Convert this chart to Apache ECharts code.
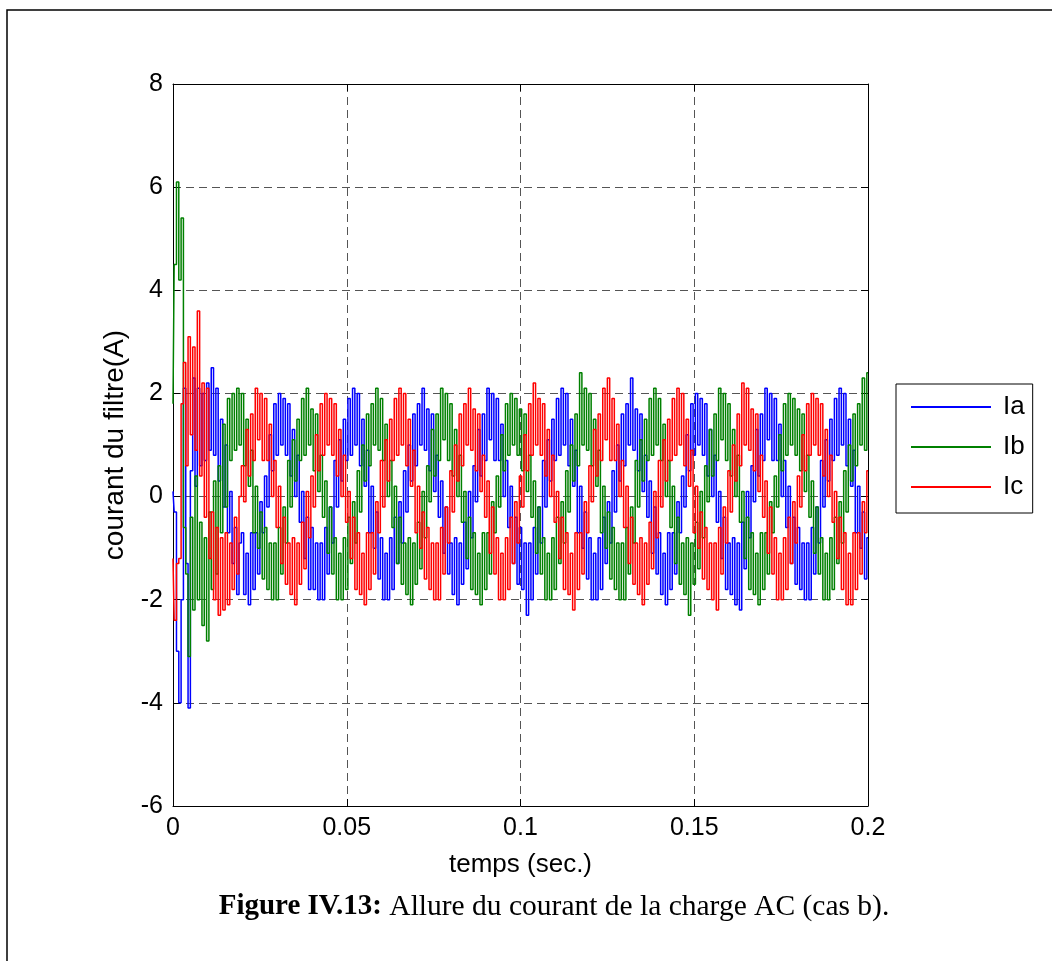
<!DOCTYPE html>
<html><head><meta charset="utf-8">
<script src="https://cdn.jsdelivr.net/npm/echarts@6/dist/echarts.min.js"></script>
<style>html,body{margin:0;padding:0;background:#fff}#c{width:1052px;height:961px}</style>
</head><body><div id="c"></div>
<script>
// ---- data ----
const seriesNames = ['Ia', 'Ib', 'Ic'];
const xTickLabels = ['0', '0.05', '0.1', '0.15', '0.2'];
const yTickLabels = ['-6', '-4', '-2', '0', '2', '4', '6', '8'];
const DT = 0.02 / 30; // sample spacing (s)

const ia = [
 .1,-.3,-3.0,-4.0,-2.0,2.1,-1.3,-4.1,.5,2.3, .2,2.1,.6,2.0,.7,2.2,.9,2.5,.8,2.1, .3,1.5,-.2,1.0,-.7,.1,-1.3,-.6,-1.9,-.9,
 -.7,-1.9,-1.1,-2.1,-.7,-1.8,-.7,-1.5,-.1,-.7, .4,-.2,1.2,.5,1.8,.8,2.0,1.0,1.9,.8, 1.8,.4,1.3,0,.8,-.5,.1,-1.2,-.4,-1.8,
 -.6,-1.8,-.9,-2.0,-.9,-2.0,-.6,-1.5,-.2,-.9, .7,-.2,1.1,.3,1.5,.7,1.9,.8,2.1,1.0, 2.0,.6,1.5,.2,.9,-.7,.2,-1.0,-.3,-1.6,
 -.8,-2.0,-1.1,-2.0,-.8,-1.8,-.4,-1.3,-.1,-.9, .5,-.3,1.0,.3,1.6,.6,1.8,1.0,2.1,.9, 1.7,.5,1.6,.1,.8,-.4,.3,-1.1,-.2,-1.5,
 -.9,-1.9,-.8,-2.1,-.9,-1.7,-.5,-1.4,.1,-.8, .6,-.1,1.3,.4,1.6,.7,2.1,1.1,2.0,.7, 1.9,.7,1.4,0,.7,-.6,.2,-1.3,-.4,-1.7,
 -.6,-1.8,-.9,-2.3,-.9,-2.0,-.6,-1.5,-.2,-.9, .7,-.2,1.1,.3,1.5,.7,1.9,.8,2.1,1.0, 2.0,.6,1.5,.2,.9,-.7,.2,-1.0,-.3,-1.6,
 -.8,-2.0,-1.1,-2.0,-.8,-1.8,-.4,-1.3,-.1,-.9, .5,-.3,1.0,.3,1.6,.6,1.8,1.0,2.3,.9, 1.7,.5,1.6,.1,.8,-.4,.3,-1.1,-.2,-1.5,
 -.7,-1.9,-1.1,-2.1,-.7,-1.8,-.7,-1.5,-.1,-.7, .4,-.2,1.2,.5,1.8,.8,2.0,1.0,1.9,.8, 1.8,.4,1.3,0,.8,-.5,.1,-1.2,-.4,-1.8,
 -.9,-1.9,-.8,-2.1,-.9,-2.2,-.5,-1.4,.1,-.8, .6,-.1,1.3,.4,1.6,.7,2.1,1.1,2.0,.7, 1.9,.7,1.4,0,.7,-.6,.2,-1.3,-.4,-1.7,
 -.6,-1.8,-.9,-2.0,-.9,-2.0,-.6,-1.5,-.2,-.9, .7,-.2,1.1,.3,1.5,.7,1.9,.8,2.1,1.0, 2.0,.6,1.5,.2,.9,-.7,.2,-1.0,-.3,-1.6,
 -.8
];

const ib = [
 1.8,4.5,6.1,4.2,5.4,-.6,-1.5,-3.1,-.4,-2.2, .4,-2.0,-.5,-2.5,-.8,-2.8,-.3,-1.8,.3,-1.5, .6,-.7,1.4,-.2,1.9,.7,2.0,.9,2.1,1.0,
 2.0,.6,1.5,.2,.9,-.7,.2,-1.0,-.3,-1.6, -.6,-1.8,-.9,-2.0,-.9,-2.0,-.6,-1.5,-.2,-.9, .7,-.2,1.1,.3,1.5,.7,1.9,.8,2.1,1.0,
 1.7,.5,1.6,.1,.8,-.4,.3,-1.1,-.2,-1.5, -.8,-2.0,-1.1,-2.0,-.8,-1.8,-.4,-1.3,-.1,-.9, .5,-.3,1.0,.3,1.6,.6,1.8,1.0,2.1,.9,
 1.9,.7,1.4,0,.7,-.6,.2,-1.3,-.4,-1.7, -.9,-1.9,-.8,-2.1,-.9,-1.7,-.5,-1.4,.1,-.8, .6,-.1,1.3,.4,1.6,.7,2.1,1.1,2.0,.7,
 1.8,.4,1.3,0,.8,-.5,.1,-1.2,-.4,-1.8, -.7,-1.9,-1.1,-2.1,-.7,-1.8,-.7,-1.5,-.1,-.7, .4,-.2,1.2,.5,1.8,.8,2.0,1.0,1.9,.8,
 1.7,.5,1.6,.1,.8,-.4,.3,-1.1,-.2,-1.5, -.8,-2.0,-1.1,-2.0,-.8,-1.8,-.4,-1.3,-.1,-.9, .5,-.3,1.0,.3,1.6,.6,2.4,1.0,2.1,.9,
 2.0,.6,1.5,.2,.9,-.7,.2,-1.0,-.3,-1.6, -.6,-1.8,-.9,-2.0,-.9,-2.0,-.6,-1.5,-.2,-.9, .7,-.2,1.1,.3,1.5,.7,1.9,.8,2.1,1.0,
 1.9,.7,1.4,0,.7,-.6,.2,-1.3,-.4,-1.7, -.9,-1.9,-.8,-2.3,-.9,-1.7,-.5,-1.4,.1,-.8, .6,-.1,1.3,.4,1.6,.7,2.1,1.1,2.0,.7,
 1.8,.4,1.3,0,.8,-.5,.1,-1.2,-.4,-1.8, -.7,-1.9,-1.1,-2.1,-.7,-1.8,-.7,-1.5,-.1,-.7, .4,-.2,1.2,.5,1.8,.8,2.0,1.0,1.9,.8,
 1.7,.5,1.6,.1,.8,-.4,.3,-1.1,-.2,-1.5, -.8,-2.0,-1.1,-2.0,-.8,-1.8,-.4,-1.3,-.1,-.9, .5,-.3,1.0,.3,1.6,.6,1.8,1.0,2.3,.9,
 2.4
];

const ic = [
 -1.2,-2.4,-1.3,-1.2,1.8,2.6,.6,3.1,1.2,2.9, .9,3.6,.4,2.2,-.4,2.1,-1.2,-.3,-2.0,-.6, -2.3,-.8,-2.2,-.7,-2.1,-.9,-1.8,-.4,-1.5,0,
 .6,-.1,1.3,.4,1.6,.7,2.1,1.1,2.0,.7, 1.9,.7,1.4,0,.7,-.6,.2,-1.3,-.4,-1.7, -.9,-1.9,-.8,-2.1,-.9,-1.7,-.5,-1.4,.1,-.8,
 .4,-.2,1.2,.5,1.8,.8,2.0,1.0,1.9,.8, 1.8,.4,1.3,0,.8,-.5,.1,-1.2,-.4,-1.8, -.7,-1.9,-1.1,-2.1,-.7,-1.8,-.7,-1.5,-.1,-.7,
 .7,-.2,1.1,.3,1.5,.7,1.9,.8,2.1,1.0, 2.0,.6,1.5,.2,.9,-.7,.2,-1.0,-.3,-1.6, -.6,-1.8,-.9,-2.0,-.9,-2.0,-.6,-1.5,-.2,-.9,
 .5,-.3,1.0,.3,1.6,.6,1.8,1.0,2.1,.9, 1.7,.5,1.6,.1,.8,-.4,.3,-1.1,-.2,-1.5, -.8,-2.0,-1.1,-2.0,-.8,-1.8,-.4,-1.3,-.1,-.9,
 .4,-.2,1.2,.5,1.8,.8,2.2,1.0,1.9,.8, 1.8,.4,1.3,0,.8,-.5,.1,-1.2,-.4,-1.8, -.7,-1.9,-1.1,-2.2,-.7,-1.8,-.7,-1.5,-.1,-.7,
 .6,-.1,1.3,.4,1.6,.7,2.1,1.1,2.3,.7, 1.9,.7,1.4,0,.7,-.6,.2,-1.3,-.4,-1.7, -.9,-1.9,-.8,-2.1,-.9,-1.7,-.5,-1.4,.1,-.8,
 .7,-.2,1.1,.3,1.5,.7,1.9,.8,2.1,1.0, 2.0,.6,1.5,.2,.9,-.7,.2,-1.0,-.3,-1.6, -.6,-1.8,-.9,-2.0,-.9,-2.2,-.6,-1.5,-.2,-.9,
 .5,-.3,1.0,.3,1.6,.6,2.2,1.0,2.1,.9, 1.7,.5,1.6,.1,.8,-.4,.3,-1.1,-.2,-1.5, -.8,-2.0,-1.1,-2.0,-.8,-1.8,-.4,-1.3,-.1,-.9,
 .4,-.2,1.2,.5,1.8,.8,2.0,1.0,1.9,.8, 1.8,.4,1.3,0,.8,-.5,.1,-1.2,-.4,-1.8, -.7,-2.1,-1.1,-2.1,-.7,-1.8,-.7,-1.5,-.1,-.7,
 .5
];

const colors = ['#0000ff', '#008000', '#ff0000'];
const seriesValues = [ia, ib, ic];

// ---- chart ----
const FONT = '"Liberation Sans", Arial, Helvetica, sans-serif';
const SERIF = '"Liberation Serif", "Times New Roman", serif';
const toPts = arr => arr.map((v, k) => [k * DT, v]);

const xLabel = v => xTickLabels[Math.round(v / 0.05)] ?? '';
const yLabel = v => yTickLabels[Math.round((v + 6) / 2)] ?? '';

const frameAxis = (extra) => Object.assign({
  type: 'value',
  axisLine: { show: true, onZero: false, lineStyle: { color: '#000', width: 1 } },
  axisTick: { show: true, inside: true, length: 7, lineStyle: { color: '#000', width: 1 } },
}, extra);

const chart = echarts.init(document.getElementById('c'), null, { renderer: 'canvas' });
chart.setOption({
  animation: false,
  backgroundColor: '#fff',
  grid: { left: 173, top: 84, width: 695, height: 722, containLabel: false },
  xAxis: [
    frameAxis({
      min: 0, max: 0.2, interval: 0.05, position: 'bottom',
      axisLabel: { color: '#000', fontSize: 25, fontFamily: FONT, margin: 10, formatter: xLabel },
      splitLine: { show: true, lineStyle: { color: '#555', width: 1, type: [8, 5] } },
      name: 'temps (sec.)', nameLocation: 'middle', nameGap: 46,
      nameTextStyle: { color: '#000', fontSize: 26, fontFamily: FONT }
    }),
    frameAxis({
      min: 0, max: 0.2, interval: 0.05, position: 'top',
      axisLabel: { show: false }, splitLine: { show: false }
    })
  ],
  yAxis: [
    frameAxis({
      min: -6, max: 8, interval: 2, position: 'left',
      axisLabel: { color: '#000', fontSize: 25, fontFamily: FONT, margin: 10, formatter: yLabel },
      splitLine: { show: true, lineStyle: { color: '#555', width: 1, type: [8, 5] } },
      name: 'courant du filtre(A)', nameLocation: 'middle', nameGap: 44,
      nameTextStyle: { color: '#000', fontSize: 28, fontFamily: FONT }
    }),
    frameAxis({
      min: -6, max: 8, interval: 2, position: 'right',
      axisLabel: { show: false }, splitLine: { show: false }
    })
  ],
  legend: {
    orient: 'vertical', left: 896, top: 384,
    itemWidth: 80, itemHeight: 2, itemGap: 14, icon: 'rect',
    padding: [10, 8, 13, 15],
    borderColor: '#000', borderWidth: 1, borderRadius: 0, backgroundColor: '#fff',
    textStyle: { color: '#000', fontSize: 26, fontFamily: FONT, padding: [0, 0, 0, 7] },
    data: seriesNames
  },
  graphic: [
    { type: 'rect', silent: true, z: -10, shape: { x: 7, y: 10, width: 2000, height: 2000 },
      style: { fill: 'none', stroke: '#000', lineWidth: 1.5 } },
    { type: 'text', silent: true, x: 554, y: 907,
      style: {
        text: '{b|Figure IV.13:} Allure du courant de la charge AC (cas b).',
        rich: { b: { fontWeight: 'bold', fontSize: 29, fontFamily: SERIF, fill: '#000' } },
        fontFamily: SERIF, fontSize: 29.5, fill: '#000', align: 'center', verticalAlign: 'middle'
      } }
  ],
  series: seriesNames.map((name, i) => ({
    name, type: 'line', xAxisIndex: 0, yAxisIndex: 0,
    data: toPts(seriesValues[i]),
    step: 'middle',
    symbol: 'none', showSymbol: false, large: false,
    lineStyle: { color: colors[i], width: 1.5 }, itemStyle: { color: colors[i] },
    emphasis: { disabled: true }, clip: true
  }))
});
</script>
</body></html>
